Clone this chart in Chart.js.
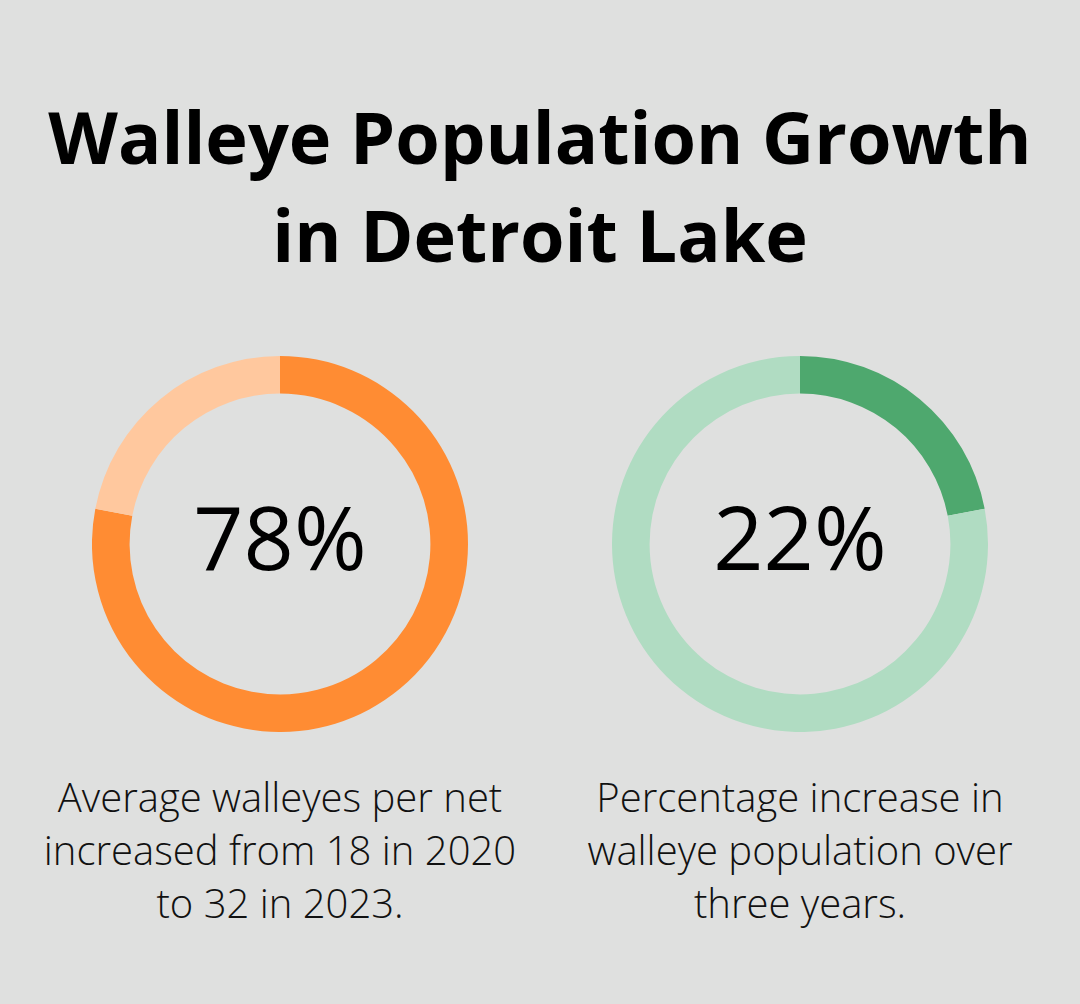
<!DOCTYPE html>
<html>
<head>
<meta charset="utf-8">
<script src="https://cdn.jsdelivr.net/npm/chart.js@4.4.1/dist/chart.umd.min.js"></script>
<style>
    body {
        margin: 0;
        background: #dfe0df;
        font-family: "Open Sans", sans-serif;
    }
    .page {
        position: relative;
        width: 1080px;
        height: 1004px;
        background: #dfe0df;
        overflow: hidden;
    }
    .title {
        position: absolute;
        left: 0;
        top: 87px;
        width: 1080px;
        text-align: center;
        font-size: 72px;
        font-weight: 700;
        line-height: 98px;
        color: #000;
    }
    .chart-box {
        position: absolute;
        top: 356px;
        width: 376px;
        height: 376px;
    }
    .center-value {
        position: absolute;
        top: 492px;
        width: 400px;
        text-align: center;
        font-size: 88px;
        line-height: 88px;
        color: #000;
    }
    .caption {
        position: absolute;
        top: 770px;
        width: 520px;
        text-align: center;
        font-size: 40px;
        font-weight: 300;
        line-height: 53px;
        color: #111;
    }
</style>
</head>
<body>
<div class="page">
    <div class="title">Walleye Population Growth<br>in Detroit Lake</div>

    <div class="chart-box" style="left: 92px;"><canvas id="leftChart"></canvas></div>
    <div class="chart-box" style="left: 612px;"><canvas id="rightChart"></canvas></div>

    <div class="center-value" id="leftValue" style="left: 80px;"></div>
    <div class="center-value" id="rightValue" style="left: 600px;"></div>

    <div class="caption" style="left: 20px;">Average walleyes per net<br>increased from 18 in 2020<br>to 32 in 2023.</div>
    <div class="caption" style="left: 540px;">Percentage increase in<br>walleye population over<br>three years.</div>
</div>

<script>
const segmentLabels = ["Value", "Remainder"];
const leftValues = [78, 22];
const rightValues = [22, 78];
const leftColors = ["#ff8c33", "#ffc89e"];
const rightColors = ["#4ea86e", "#b0dcc2"];

function renderRing(canvasId, values, colors) {
    const canvas = document.getElementById(canvasId);
    if (!canvas) {
        return;
    }

    new Chart(canvas, {
        type: "doughnut",
        data: {
            labels: segmentLabels,
            datasets: [{
                data: values,
                backgroundColor: colors,
                borderWidth: 0,
                hoverOffset: 0
            }]
        },
        options: {
            responsive: true,
            maintainAspectRatio: false,
            animation: false,
            cutout: "80%",
            layout: {
                padding: 0
            },
            plugins: {
                legend: {
                    display: false
                },
                tooltip: {
                    enabled: false
                }
            }
        }
    });
}

renderRing("leftChart", leftValues, leftColors);
renderRing("rightChart", rightValues, rightColors);

document.getElementById("leftValue").textContent = leftValues[0] + "%";
document.getElementById("rightValue").textContent = rightValues[0] + "%";
</script>
</body>
</html>
